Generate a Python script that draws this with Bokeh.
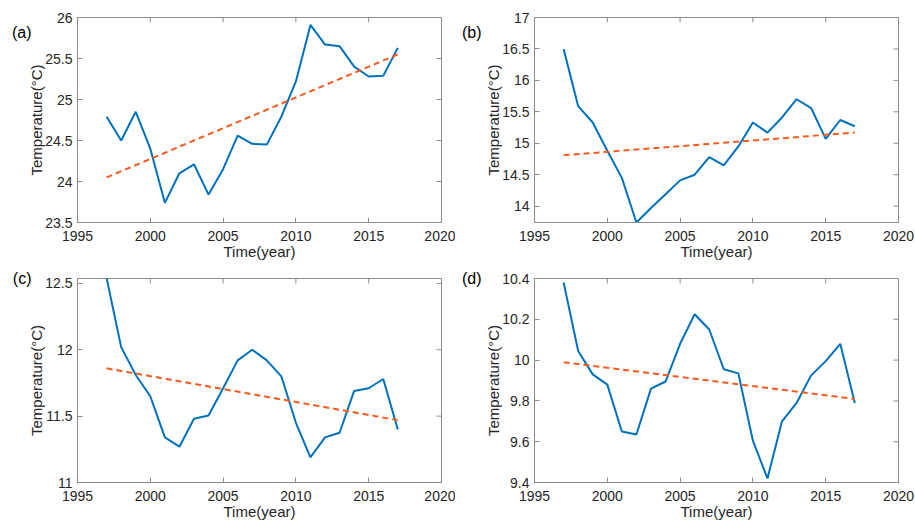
import math
from bokeh.plotting import figure
from bokeh.layouts import gridplot
from bokeh.models import Range1d, FixedTicker, NumeralTickFormatter, LinearAxis
from bokeh.embed import file_html
from bokeh.resources import INLINE

years = list(range(1997, 2018))

temp_a = [24.79, 24.50, 24.85, 24.40, 23.74, 24.10, 24.21, 23.84, 24.15, 24.56, 24.46,
          24.45, 24.79, 25.22, 25.91, 25.67, 25.65, 25.40, 25.28, 25.29, 25.63]
temp_b = [16.50, 15.59, 15.33, 14.88, 14.45, 13.74, 13.97, 14.19, 14.41, 14.50, 14.78,
          14.65, 14.95, 15.33, 15.17, 15.41, 15.70, 15.56, 15.07, 15.37, 15.27]
temp_c = [12.54, 12.02, 11.81, 11.65, 11.34, 11.27, 11.48, 11.505, 11.71, 11.92, 12.00,
          11.92, 11.80, 11.45, 11.19, 11.34, 11.375, 11.69, 11.71, 11.78, 11.40]
temp_d = [10.38, 10.045, 9.93, 9.88, 9.65, 9.635, 9.86, 9.895, 10.08, 10.225, 10.15,
          9.955, 9.935, 9.605, 9.42, 9.70, 9.79, 9.925, 9.995, 10.08, 9.79]

trend_years = [1997, 2017]
trend_a = [24.05, 25.55]
trend_b = [14.81, 15.17]
trend_c = [11.86, 11.47]
trend_d = [9.99, 9.81]

x_ticks = [1995, 2000, 2005, 2010, 2015, 2020]
y_ticks_a = [23.5, 24, 24.5, 25, 25.5, 26]
y_ticks_b = [14, 14.5, 15, 15.5, 16, 16.5, 17]
y_ticks_c = [11, 11.5, 12, 12.5]
y_ticks_d = [9.4, 9.6, 9.8, 10, 10.2, 10.4]

x_range = (1995, 2020)
y_range_a = (23.5, 26)
y_range_b = (13.74, 17)
y_range_c = (11, 12.537)
y_range_d = (9.4, 10.4)

panel_labels = ["(a)", "(b)", "(c)", "(d)"]

FONT = "Liberation Sans"
AX_COL = "#8c8c8c"
TXT_COL = "#262626"
BLUE = "#0072BD"
ORANGE = "#F55A1E"


def make_panel(y, trend, yr, yticks, width, height, borders, label, label_drop,
               label_standoff):
    left, right, top, bottom = borders
    p = figure(width=width, height=height, output_backend="svg", toolbar_location=None,
               x_range=Range1d(*x_range), y_range=Range1d(*yr),
               min_border_left=left, min_border_right=right,
               min_border_top=top, min_border_bottom=bottom,
               background_fill_color="white", border_fill_color="white")
    p.xgrid.visible = False
    p.ygrid.visible = False
    p.outline_line_color = AX_COL
    p.outline_line_width = 1

    p.line(years, y, line_color=BLUE, line_width=2)
    p.line(trend_years, trend, line_color=ORANGE, line_width=2, line_dash="6 4")

    # mirrored inward ticks on top and right edges (clipped to the frame)
    p.scatter(x_ticks, [yr[1]] * len(x_ticks), marker="dash", size=10,
              angle=math.pi / 2, line_color=AX_COL, line_width=1)
    p.scatter([x_range[1]] * len(yticks), yticks, marker="dash", size=10,
              line_color=AX_COL, line_width=1)

    p.xaxis.ticker = FixedTicker(ticks=x_ticks)
    p.xaxis.formatter = NumeralTickFormatter(format="0")
    p.xaxis.axis_label = "Time(year)"
    p.yaxis.ticker = FixedTicker(ticks=yticks)
    p.yaxis.formatter = NumeralTickFormatter(format="0.[0]")
    p.yaxis.axis_label = "Temperature(°C)"
    for ax in p.xaxis + p.yaxis:
        ax.major_tick_in = 5
        ax.major_tick_out = 0
        ax.minor_tick_in = 0
        ax.minor_tick_out = 0
        ax.axis_line_color = AX_COL
        ax.major_tick_line_color = AX_COL
        ax.major_label_text_font = FONT
        ax.major_label_text_font_size = "14px"
        ax.major_label_text_color = TXT_COL
        ax.axis_label_text_font = FONT
        ax.axis_label_text_font_size = "15px"
        ax.axis_label_text_font_style = "normal"
        ax.axis_label_text_color = TXT_COL
    p.xaxis.major_label_standoff = 8
    p.xaxis.axis_label_standoff = -1
    p.yaxis.major_label_standoff = 5
    p.yaxis.axis_label_standoff = -3

    # panel letter, drawn as the single tick label of an outer left axis
    frame_h = height - top - bottom
    ly = yr[1] - label_drop / frame_h * (yr[1] - yr[0])
    lab_axis = LinearAxis(ticker=FixedTicker(ticks=[ly]),
                          major_label_overrides={ly: label},
                          axis_line_color=None, major_tick_line_color=None,
                          minor_tick_line_color=None,
                          major_tick_in=0, major_tick_out=0,
                          major_label_standoff=label_standoff,
                          major_label_text_font=FONT,
                          major_label_text_font_size="16px",
                          major_label_text_color="#000000")
    p.add_layout(lab_axis, "left")
    return p


pa = make_panel(temp_a, trend_a, y_range_a, y_ticks_a, 455, 262, (77, 14, 17, 38),
                panel_labels[0], 15, -6)
pb = make_panel(temp_b, trend_b, y_range_b, y_ticks_b, 460, 262, (79, 17, 17, 39),
                panel_labels[1], 15, 1)
pc = make_panel(temp_c, trend_c, y_range_c, y_ticks_c, 455, 262, (77, 14, 15, 42),
                panel_labels[2], 0, -6)
pd = make_panel(temp_d, trend_d, y_range_d, y_ticks_d, 460, 262, (79, 17, 16, 41),
                panel_labels[3], 0, 1)

grid = gridplot([[pa, pb], [pc, pd]], toolbar_location=None)

open("out.html", "w").write(file_html(grid, INLINE))
